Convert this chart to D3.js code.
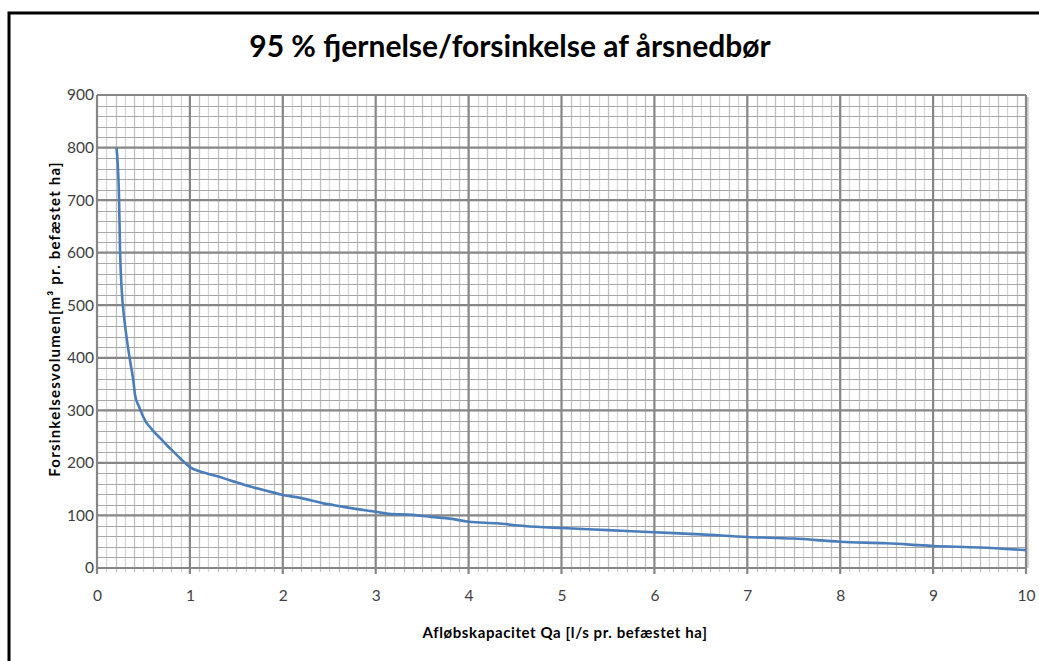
<!DOCTYPE html>
<html>
<head>
<meta charset="utf-8">
<script src="https://cdn.jsdelivr.net/npm/d3@7"></script>
<style>
  body { margin: 0; background: #fff; }
  svg { display: block; }
  .tick text { font-family: Lato, "Open Sans", sans-serif; font-size: 15.5px; fill: #404040; }
</style>
</head>
<body>
<svg id="chart" width="1039" height="661"></svg>
<script>
// curve: Qa [l/s pr. befæstet ha] -> volume [m³ pr. befæstet ha]
var qa     = [0.21, 0.237, 0.248, 0.266, 0.29, 0.32, 0.36, 0.39, 0.41, 0.45, 0.52, 0.6, 0.68, 0.75, 0.82, 0.9, 1.0, 1.1, 1.2, 1.36, 1.5, 1.65, 1.8, 2.0, 2.2, 2.44, 2.6, 2.8, 3.0, 3.14, 3.4, 3.6, 3.8, 4.0, 4.3, 4.6, 5.0, 5.5, 6.0, 6.5, 7.0, 7.5, 8.0, 8.5, 9.0, 9.5, 10.0];
var volume = [800, 706, 605, 529, 480, 437, 390, 358, 329, 308, 280, 262, 247, 234, 222, 208, 192, 184, 179, 171, 163, 155, 148, 139, 133, 123, 118, 112, 107, 103, 101, 97, 94, 88, 85, 80, 76, 72, 68, 64, 59, 56, 50, 47, 42, 39, 34];

var xTicks = [0, 1, 2, 3, 4, 5, 6, 7, 8, 9, 10];
var yTicks = [0, 100, 200, 300, 400, 500, 600, 700, 800, 900];

var title  = "95 % fjernelse/forsinkelse af årsnedbør";
var xTitle = "Afløbskapacitet Qa [l/s pr. befæstet ha]";
var yTitle = "Forsinkelsesvolumen[m³ pr. befæstet ha]";

var svg = d3.select("#chart");
var margin = {top: 95, left: 97, right: 13, bottom: 93};
var width = 1026 - margin.left,
    height = 568 - margin.top;

// outer frame of the chart area
svg.append("rect")
    .attr("x", 9).attr("y", 13)
    .attr("width", 1100).attr("height", 700)
    .attr("fill", "none").attr("stroke", "#000").attr("stroke-width", 3);

svg.append("text")
    .attr("x", 510).attr("y", 57)
    .attr("text-anchor", "middle")
    .style("font-family", "Lato, 'Open Sans', sans-serif")
    .style("font-weight", "bold")
    .style("font-size", "30px")
    .text(title);

var x = d3.scaleLinear().domain([0, 10]).range([0, width]);
var y = d3.scaleLinear().domain([0, 900]).range([height, 0]);

var g = svg.append("g")
    .attr("transform", "translate(" + margin.left + "," + margin.top + ")");

// light shadow on the right side of the plot
g.append("line")
    .attr("x1", width + 2).attr("x2", width + 2)
    .attr("y1", 2).attr("y2", height)
    .attr("stroke", "#d4d4d4").attr("stroke-width", 2);

var minorX = d3.range(1, 100).map(function(i) { return i / 10; }).filter(function(v) { return Math.round(v * 10) % 10 != 0; });
var minorY = d3.range(20, 900, 20).filter(function(v) { return v % 100 != 0; });

g.selectAll(".minx").data(minorX).enter().append("line")
    .attr("class", "minx")
    .attr("x1", function(d) { return Math.round(x(d)) + 0.5; })
    .attr("x2", function(d) { return Math.round(x(d)) + 0.5; })
    .attr("y1", 0).attr("y2", height + 4)
    .attr("stroke", function(d, i) { return i % 2 ? "#c0c0c0" : "#d6d6d6"; })
    .attr("stroke-width", 1.3);

g.selectAll(".miny").data(minorY).enter().append("line")
    .attr("class", "miny")
    .attr("x1", 0).attr("x2", width)
    .attr("y1", function(d) { return Math.round(y(d)) + 0.5; })
    .attr("y2", function(d) { return Math.round(y(d)) + 0.5; })
    .attr("stroke", "#a8a8a8").attr("stroke-width", 1);

g.selectAll(".majx").data(xTicks).enter().append("line")
    .attr("class", "majx")
    .attr("x1", function(d) { return x(d); })
    .attr("x2", function(d) { return x(d); })
    .attr("y1", 0).attr("y2", height + 6)
    .attr("stroke", "#868686").attr("stroke-width", 2.2);

g.selectAll(".majy").data(yTicks).enter().append("line")
    .attr("class", "majy")
    .attr("x1", 0).attr("x2", width)
    .attr("y1", function(d) { return y(d); })
    .attr("y2", function(d) { return y(d); })
    .attr("stroke", "#868686").attr("stroke-width", 2.2);

var xAxis = d3.axisBottom(x).tickValues(xTicks).tickSize(0).tickPadding(22).tickFormat(d3.format("d"));
var yAxis = d3.axisLeft(y).tickValues(yTicks).tickSize(0).tickPadding(3).tickFormat(d3.format("d"));

g.append("g").attr("transform", "translate(0," + height + ")").call(xAxis)
    .call(function(a) { a.select(".domain").remove(); });
g.append("g").call(yAxis)
    .call(function(a) { a.select(".domain").remove(); });

var line = d3.line()
    .x(function(d, i) { return x(qa[i]); })
    .y(function(d) { return y(d); })
    .curve(d3.curveMonotoneX);

g.append("path")
    .datum(volume)
    .attr("fill", "none")
    .attr("stroke", "#4a7ebb")
    .attr("stroke-width", 2.6)
    .attr("d", line);

svg.append("text")
    .attr("x", 565).attr("y", 638)
    .attr("text-anchor", "middle")
    .style("font-family", "Lato, 'Open Sans', sans-serif")
    .style("font-weight", "bold")
    .style("font-size", "15px")
    .style("letter-spacing", "0.6px")
    .text(xTitle);

svg.append("text")
    .attr("transform", "translate(60,319) rotate(-90)")
    .attr("text-anchor", "middle")
    .style("font-family", "Lato, 'Open Sans', sans-serif")
    .style("font-weight", "bold")
    .style("font-size", "15px")
    .style("letter-spacing", "1.2px")
    .text(yTitle);
</script>
</body>
</html>
